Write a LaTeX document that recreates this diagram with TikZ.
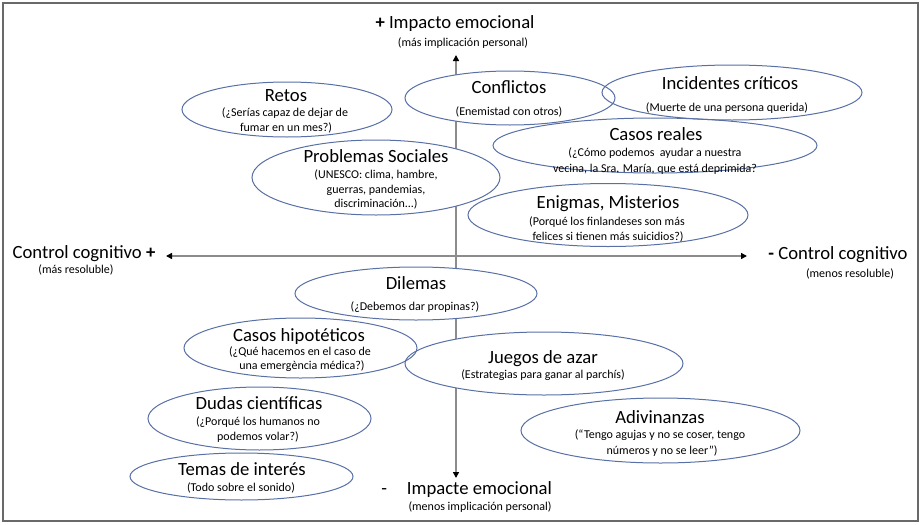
\documentclass[tikz,border=0pt]{standalone}
\usepackage{fontspec}
\setmainfont{Carlito}
\usetikzlibrary{shapes.geometric,arrows.meta}
\definecolor{ellc}{RGB}{88,112,165}
\definecolor{axc}{RGB}{140,140,140}
\definecolor{framec}{RGB}{105,105,105}
\begin{document}
\begin{tikzpicture}[x=0.75pt,y=-0.75pt,
  big/.style={font=\fontsize{14}{16}\selectfont, inner sep=0pt, text height=9pt, text depth=0pt},
  ttl/.style={big},
  small/.style={font=\fontsize{9}{11}\selectfont, inner sep=0pt, text height=5.8pt, text depth=0pt},
  ellfill/.style={ellipse, fill=white, draw=none, inner sep=0pt},
  ellline/.style={draw=ellc, line width=0.75pt},
  axis/.style={draw=axc, line width=1.1pt, {Triangle[length=4.5pt,width=4.5pt,color=black,fill=black]}-{Triangle[length=4.5pt,width=4.5pt,color=black,fill=black]}},
  framebox/.style={draw=framec, line width=1.5pt}]
\useasboundingbox (0,0) rectangle (922,525);
\draw[framebox] (3,3) rectangle (918,521);

% axes
\coordinate (vtop) at (456,55);
\coordinate (vbot) at (456,478);
\coordinate (hl) at (166,256);
\coordinate (hr) at (747,256);
\draw[axis] (vbot) -- (vtop);
\draw[axis] (hl) -- (hr);

% axis labels
\node[big] (topL) at (455,22) {\textbf{+} Impacto emocional};
\node[small] (topS) at (463,43) {(más implicación personal)};
\node[big] (leftL) at (84,252) {Control cognitivo \textbf{+}};
\node[small] (leftS) at (76,270) {(más resoluble)};
\node[big] (rightL) at (838,253) {\textbf{-} Control cognitivo};
\node[small] (rightS) at (850,274) {(menos resoluble)};
\node[big, anchor=west] (botL) at (381,488) {-\hspace{15pt}Impacte emocional};
\node[small] (botS) at (480,507) {(menos implicación personal)};

% ellipse fills
\foreach \n/\cx/\cy/\rx/\ry in {
  retos/287/109.5/105/27.5,
  problemas/376/177.5/124/37.5,
  conflictos/510/98/105/27,
  incidentes/732/92.5/130/27.5,
  casos/655/145.5/162/27.5,
  enigmas/608/215/140/31.5,
  dilemas/416/293.5/121/26.5,
  hipot/300.5/348/116.5/30,
  juegos/544/363.5/139/31.5,
  dudas/259.5/418.5/111.5/31.5,
  temas/241.5/476.5/111.5/23.5,
  adiv/660.5/430.5/139.5/32.5}
  {\node[ellfill, minimum width=2*\rx*0.75pt, minimum height=2*\ry*0.75pt] (\n) at (\cx,\cy) {};}

% ellipse outlines
\foreach \n/\rx/\ry in {
  retos/105/27.5, problemas/124/37.5, conflictos/105/27, incidentes/130/27.5,
  casos/162/27.5, enigmas/140/31.5, dilemas/121/26.5, hipot/116.5/30,
  juegos/139/31.5, dudas/111.5/31.5, temas/111.5/23.5, adiv/139.5/32.5}
  {\draw[ellline] (\n.center) ellipse [x radius=\rx*0.75pt, y radius=\ry*0.75pt];}

% texts
\node[ttl] (retosT) at (286,95) {Retos};
\node[small] (retos1) at (285,113) {(¿Serías capaz de dejar de};
\node[small] (retos2) at (286,128) {fumar en un mes?)};

\node[ttl] (problemasT) at (376,156) {Problemas Sociales};
\node[small] (problemas1) at (376,175) {(UNESCO: clima, hambre,};
\node[small] (problemas2) at (376,190) {guerras, pandemias,};
\node[small] (problemas3) at (376,204) {discriminación...)};

\node[ttl] (conflictosT) at (509,87) {Conflictos};
\node[small] (conflictos1) at (509,112) {(Enemistad con otros)};

\node[ttl] (incidentesT) at (730,83) {Incidentes críticos};
\node[small] (incidentes1) at (727,108) {(Muerte de una persona querida)};

\node[ttl] (casosT) at (656,134) {Casos reales};
\node[small] (casos1) at (655,153) {(¿Cómo podemos\ \ ayudar a nuestra};
\node[small] (casos2) at (655,169) {vecina, la Sra. María, que está deprimida?};

\node[ttl] (enigmasT) at (608,202) {Enigmas, Misterios};
\node[small] (enigmas1) at (607,222) {(Porqué los finlandeses son más};
\node[small] (enigmas2) at (608,237) {felices si tienen más suicidios?)};

\node[ttl] (dilemasT) at (416,283) {Dilemas};
\node[small] (dilemas1) at (415,307) {(¿Debemos dar propinas?)};

\node[ttl] (hipotT) at (299,335) {Casos hipotéticos};
\node[small] (hipot1) at (300,352) {(¿Qué hacemos en el caso de};
\node[small] (hipot2) at (302,366) {una emergència médica?)};

\node[ttl] (juegosT) at (543,357) {Juegos de azar};
\node[small] (juegos1) at (543,375) {(Estrategias para ganar al parchís)};

\node[ttl] (dudasT) at (259,403) {Dudas científicas};
\node[small] (dudas1) at (258,422) {(¿Porqué los humanos no};
\node[small] (dudas2) at (258,437) {podemos volar?)};

\node[ttl] (temasT) at (242,469) {Temas de interés};
\node[small] (temas1) at (241,488) {(Todo sobre el sonido)};

\node[ttl] (adivT) at (660,417) {Adivinanzas};
\node[small] (adiv1) at (660,435) {(“Tengo agujas y no se coser, tengo};
\node[small] (adiv2) at (662,451) {números\ y no se leer”)};
\end{tikzpicture}
\end{document}
